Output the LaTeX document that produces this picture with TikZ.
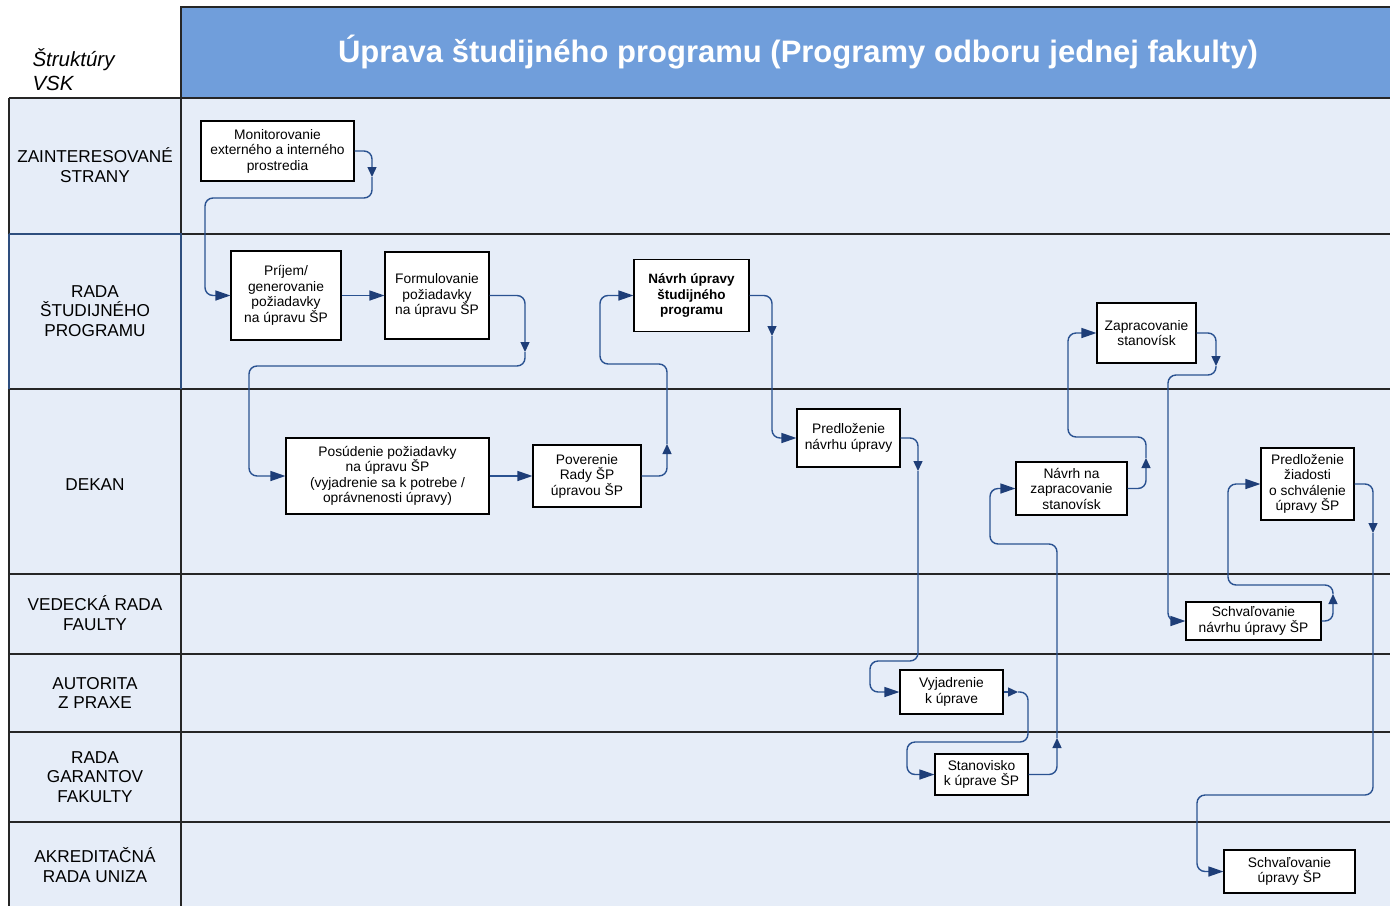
\documentclass[tikz,border=0pt]{standalone}
\usepackage{fontspec}
\setmainfont{Liberation Sans}
\usetikzlibrary{arrows.meta}
\definecolor{hdr}{RGB}{112,158,219}
\definecolor{lane}{RGB}{230,237,248}
\definecolor{conn}{RGB}{42,82,145}
\definecolor{arrc}{RGB}{30,62,120}
\definecolor{selb}{RGB}{46,78,126}
\tikzset{
  box/.style={draw=black, line width=1.1pt, fill=white, align=center, inner sep=1pt,
    font=\fontsize{13.8}{15.5}\selectfont},
  lanelbl/.style={align=center, font=\fontsize{17.2}{19.5}\selectfont},
  conn/.style={draw=conn, line width=1.4pt, rounded corners=8pt},
  endarr/.style={-{Triangle[length=15pt,width=10pt,fill=arrc,color=arrc]}},
  midarr/.style={-{Triangle[length=10pt,width=9pt,fill=arrc,color=arrc]}},
  sep/.style={draw=black!85, line width=1.4pt}
}
\begin{document}
\begin{tikzpicture}[x=1pt,y=-1pt]
\useasboundingbox (0,0) rectangle (1390,906);
% backgrounds
\fill[lane] (9,98) rectangle (1390,906);
\fill[hdr] (181,7) rectangle (1390,98);
\draw[sep] (1390,7) -- (181,7) -- (181,906);
\draw[sep] (9,98) -- (1390,98);
\draw[sep] (9,98) -- (9,906);
\foreach \yy in {389,574,654,732,822} \draw[sep] (9,\yy) -- (1390,\yy);
\draw[sep] (181,234) -- (1390,234);
\draw[draw=selb, line width=1.4pt] (9,234) -- (181,234) -- (181,389);
\draw[draw=selb, line width=1.4pt] (9,234) -- (9,389);
% titles
\node[font=\bfseries\fontsize{31}{34}\selectfont, text=white] (title) at (798,52) {Úprava študijného programu (Programy odboru jednej fakulty)};
\node[anchor=west, align=left, font=\itshape\fontsize{20.5}{24}\selectfont] (vsk) at (29,70) {Štruktúry\\VSK};
% lane labels
\node[lanelbl] (l1) at (95,165) {ZAINTERESOVANÉ\\STRANY};
\node[lanelbl] (l2) at (95,311) {RADA\\ŠTUDIJNÉHO\\PROGRAMU};
\node[lanelbl] (l3) at (95,485) {DEKAN};
\node[lanelbl] (l4) at (95,613) {VEDECKÁ RADA\\FAULTY};
\node[lanelbl] (l5) at (95,693) {AUTORITA\\Z PRAXE};
\node[lanelbl] (l6) at (95,777) {RADA\\GARANTOV\\FAKULTY};
\node[lanelbl] (l7) at (95,865) {AKREDITAČNÁ\\RADA UNIZA};
% process boxes
\node[box, minimum width=153pt, minimum height=60pt] (n1) at (277.5,151) {Monitorovanie\\externého a interného\\prostredia};
\node[box, minimum width=110pt, minimum height=89pt] (n2) at (286,295.5) {Príjem/\\generovanie\\požiadavky\\na úpravu ŠP};
\node[box, minimum width=104pt, minimum height=87pt] (n3) at (437,295.5) {Formulovanie\\požiadavky\\na úpravu ŠP};
\node[box, minimum width=115pt, minimum height=72pt, font=\bfseries\fontsize{13.5}{15.5}\selectfont] (n4) at (691.5,295.5) {Návrh úpravy\\študijného\\programu};
\node[box, minimum width=203pt, minimum height=76pt] (n5) at (387.5,476) {Posúdenie požiadavky\\na úpravu ŠP\\(vyjadrenie sa k potrebe /\\oprávnenosti úpravy)};
\node[box, minimum width=108pt, minimum height=62pt] (n6) at (587,476) {Poverenie\\Rady ŠP\\úpravou ŠP};
\node[box, minimum width=103pt, minimum height=58pt] (n7) at (848.5,438) {Predloženie\\návrhu úpravy};
\node[box, minimum width=99pt, minimum height=60pt] (n8) at (1146.5,333) {Zapracovanie\\stanovísk};
\node[box, minimum width=111pt, minimum height=53pt] (n9) at (1071.5,488.5) {Návrh na\\zapracovanie\\stanovísk};
\node[box, minimum width=93pt, minimum height=72pt] (n10) at (1307.5,484) {Predloženie\\žiadosti\\o schválenie\\úpravy ŠP};
\node[box, minimum width=135pt, minimum height=38pt] (n11) at (1253.5,621) {Schvaľovanie\\návrhu úpravy ŠP};
\node[box, minimum width=103pt, minimum height=44pt] (n12) at (951.5,692) {Vyjadrenie\\k úprave};
\node[box, minimum width=93pt, minimum height=41pt] (n13) at (981.5,774.5) {Stanovisko\\k úprave ŠP};
\node[box, minimum width=131pt, minimum height=43pt] (n14) at (1289.5,871.5) {Schvaľovanie\\úpravy ŠP};
% mid-arrow coordinates
\coordinate (a1) at (372,177);
\coordinate (c1) at (525,352);
\coordinate (e1) at (667,444);
\coordinate (f1) at (772,336);
\coordinate (g1) at (918,471);
\coordinate (h1) at (1018,692);
\coordinate (i1) at (1057,738);
\coordinate (j1) at (1146,458);
\coordinate (k1) at (1216,366);
\coordinate (l1a) at (1333,594);
\coordinate (m1) at (1373,533);
% connectors
\draw[conn, midarr] (n1.east) -- (372,151) -- (a1);
\draw[conn, endarr] (a1) -- (372,198) -- (205,198) -- (205,295.5) -- (n2.west);
\draw[conn, endarr] (n2.east) -- (n3.west);
\draw[conn, midarr] (n3.east) -- (525,295.5) -- (c1);
\draw[conn, endarr] (c1) -- (525,366) -- (249,366) -- (249,476) -- (n5.west);
\draw[conn, endarr] (n5.east) -- (n6.west);
\draw[conn, midarr] (n6.east) -- (667,476) -- (e1);
\draw[conn, endarr] (e1) -- (667,364) -- (600,364) -- (600,295.5) -- (n4.west);
\draw[conn, midarr] (n4.east) -- (772,295.5) -- (f1);
\draw[conn, endarr] (f1) -- (772,438) -- (n7.west);
\draw[conn, midarr] (n7.east) -- (918,438) -- (g1);
\draw[conn, endarr] (g1) -- (918,661) -- (870,661) -- (870,692) -- (n12.west);
\draw[conn, midarr] (n12.east) -- (h1);
\draw[conn, endarr] (h1) -- (1028,692) -- (1028,742) -- (907,742) -- (907,774.5) -- (n13.west);
\draw[conn, midarr] (n13.east) -- (1057,774.5) -- (i1);
\draw[conn, endarr] (i1) -- (1057,544) -- (990,544) -- (990,488.5) -- (n9.west);
\draw[conn, midarr] (n9.east) -- (1146,488.5) -- (j1);
\draw[conn, endarr] (j1) -- (1146,437) -- (1068,437) -- (1068,333) -- (n8.west);
\draw[conn, midarr] (n8.east) -- (1216,333) -- (k1);
\draw[conn, endarr] (k1) -- (1216,375) -- (1168,375) -- (1168,621) -- (n11.west);
\draw[conn, midarr] (n11.east) -- (1333,621) -- (l1a);
\draw[conn, endarr] (l1a) -- (1333,585) -- (1228,585) -- (1228,484) -- (n10.west);
\draw[conn, midarr] (n10.east) -- (1373,484) -- (m1);
\draw[conn, endarr] (m1) -- (1373,795) -- (1197,795) -- (1197,871.5) -- (n14.west);
\end{tikzpicture}
\end{document}
